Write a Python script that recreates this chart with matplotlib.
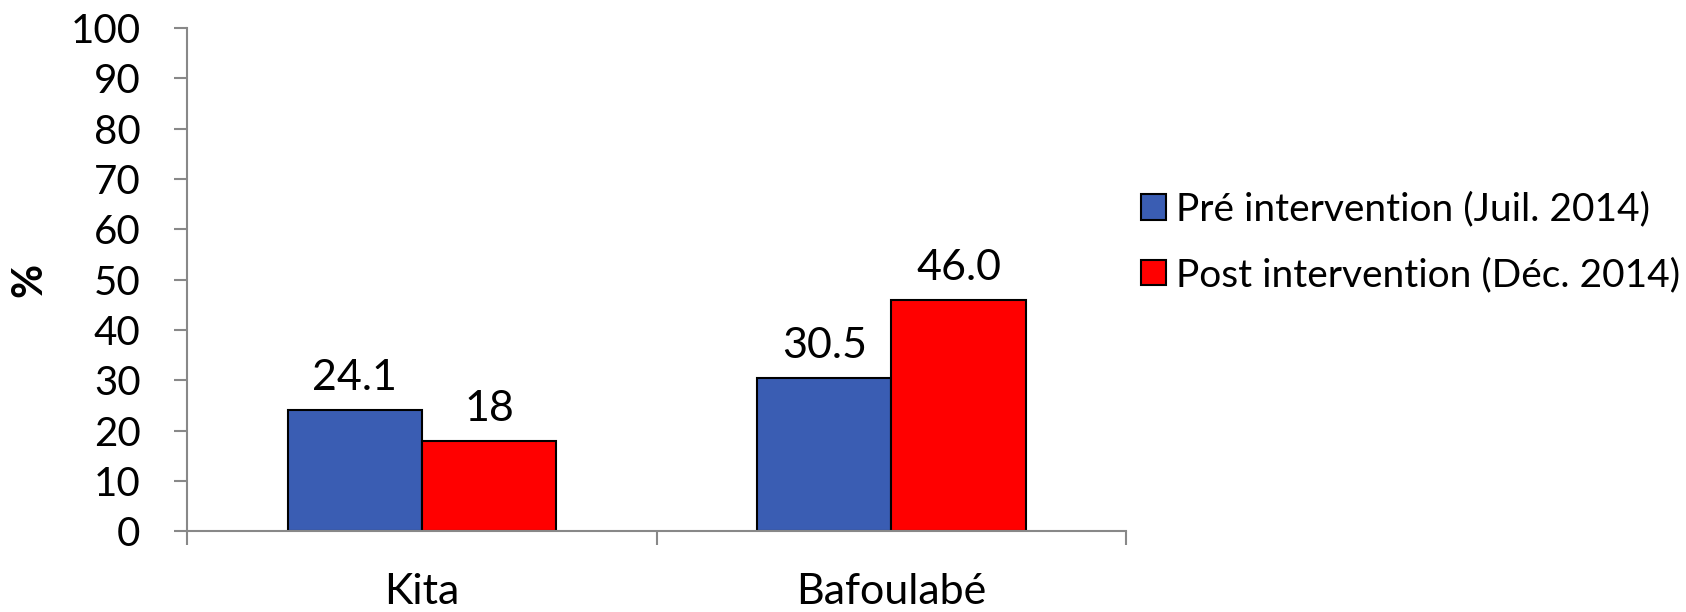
import numpy as np
import matplotlib.pyplot as plt
from matplotlib.patches import Patch

plt.rcParams["font.family"] = ["Lato", "DejaVu Sans"]

categories = ["Kita", "Bafoulabé"]
pre = [24.1, 30.5]
post = [18.0, 46.0]
pre_labels = ["24.1", "30.5"]
post_labels = ["18", "46.0"]
series_names = ["Pré intervention (Juil. 2014)", "Post intervention (Déc. 2014)"]
colors = ["#3A5DB3", "#FF0000"]

fig = plt.figure(figsize=(16.86, 6.12), dpi=100)
ax = fig.add_axes([0.111, 0.132, 0.557, 0.822])

x = np.arange(len(categories))
w = 0.286
b1 = ax.bar(x - w / 2, pre, w, color=colors[0], edgecolor="black", linewidth=1.5)
b2 = ax.bar(x + w / 2, post, w, color=colors[1], edgecolor="black", linewidth=1.5)

for bars, labs in [(b1, pre_labels), (b2, post_labels)]:
    for r, lab in zip(bars, labs):
        ax.annotate(lab, (r.get_x() + r.get_width() / 2, r.get_height()),
                    xytext=(0, 9), textcoords="offset points",
                    ha="center", va="bottom", fontsize=31)

ax.set_xlim(-0.5, 1.5)
ax.set_ylim(0, 100)
ax.set_yticks(np.arange(0, 101, 10))
ax.tick_params(axis="y", labelsize=29, length=9.5, width=1.5, color="#888888", pad=24)
ax.set_xticks([-0.5, 0.5, 1.5])
ax.set_xticklabels([])
ax.tick_params(axis="x", which="major", length=10, width=1.5, color="#888888", direction="out")
ax.set_xticks(x, minor=True)
ax.set_xticklabels(categories, minor=True, fontsize=31)
ax.tick_params(axis="x", which="minor", length=0, pad=30)

for s in ["top", "right"]:
    ax.spines[s].set_visible(False)
for s in ["left", "bottom"]:
    ax.spines[s].set_color("#888888")
    ax.spines[s].set_linewidth(1.5)

ax.set_ylabel("%", fontsize=30, fontweight="bold", labelpad=16)

handles = [Patch(facecolor=c, edgecolor="black", linewidth=1.5) for c in colors]
fig.legend(handles, series_names, loc="center left", bbox_to_anchor=(0.677, 0.604),
           frameon=False, fontsize=28, handlelength=0.62, handleheight=0.62,
           handletextpad=0.28, labelspacing=0.75, borderpad=0, borderaxespad=0)

fig.savefig("out.png", dpi=100)
